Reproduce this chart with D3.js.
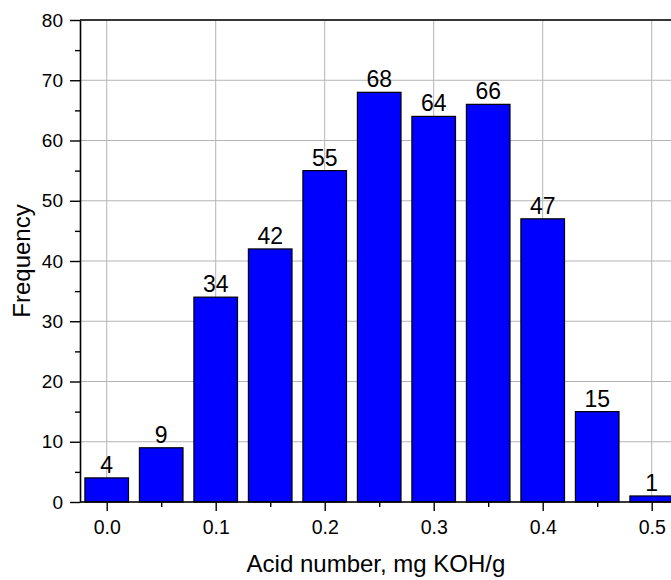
<!DOCTYPE html>
<html>
<head>
<meta charset="utf-8">
<script src="https://cdnjs.cloudflare.com/ajax/libs/d3/7.9.0/d3.min.js"></script>
<style>
  html, body { margin: 0; padding: 0; background: #fff; overflow: hidden; }
  svg { display: block; font-family: "Liberation Sans", Arial, sans-serif; }
</style>
</head>
<body>
<div id="grafico"></div>
<script>
// centros das classes (mg KOH/g) e frequências
const classes = [0.0, 0.05, 0.1, 0.15, 0.2, 0.25, 0.3, 0.35, 0.4, 0.45, 0.5];
const frequencias = [4, 9, 34, 42, 55, 68, 64, 66, 47, 15, 1];
const ticksX = [0.0, 0.1, 0.2, 0.3, 0.4, 0.5];
const ticksY = [0, 10, 20, 30, 40, 50, 60, 70, 80];

const W = 671, H = 580;
const esq = 80, topo = 20, base = 502;
const larguraClasse = 0.05;
const FONTE = "Liberation Sans, Arial, sans-serif";

const svg = d3.select("#grafico").append("svg")
  .attr("width", W).attr("height", H);

// escala x vai além da janela (eixo direito fica cortado)
const x = d3.scaleLinear().domain([-0.0245, 0.5]).range([esq, 651.7]);
const y = d3.scaleLinear().domain([0, 80]).range([base, topo]);

// grade
const grade = svg.append("g").attr("stroke", "#b4b4b4").attr("stroke-width", 1);
ticksX.forEach(t => {
  grade.append("line").attr("x1", x(t)).attr("x2", x(t)).attr("y1", topo).attr("y2", base);
});
ticksY.forEach(t => {
  grade.append("line").attr("x1", esq).attr("x2", W + 20).attr("y1", y(t)).attr("y2", y(t));
});

const dados = classes.map((c, i) => ({ c, f: frequencias[i] }));

// barras
const bw = (x(larguraClasse) - x(0)) * 0.8;
svg.append("g").selectAll("rect")
  .data(dados)
  .join("rect")
  .attr("x", d => x(d.c) - bw / 2)
  .attr("y", d => y(d.f))
  .attr("width", bw)
  .attr("height", d => y(0) - y(d.f))
  .attr("fill", "#0000ff")
  .attr("stroke", "#000")
  .attr("stroke-width", 1.2);

// rótulos
svg.append("g").selectAll("text")
  .data(dados)
  .join("text")
  .attr("x", d => x(d.c))
  .attr("y", d => y(d.f) - 5)
  .attr("text-anchor", "middle")
  .attr("font-size", 23)
  .attr("fill", "#000")
  .text(d => d.f);

// eixos
const eixoX = d3.axisBottom(x)
  .tickValues(d3.range(0, 0.51, 0.05).map(v => +v.toFixed(2)))
  .tickFormat(d => ticksX.some(t => Math.abs(t - d) < 1e-9) ? d3.format(".1f")(d) : "")
  .tickSizeOuter(0);
const gx = svg.append("g").attr("transform", `translate(0,${base})`).call(eixoX);
gx.select(".domain").attr("d", `M${esq},0H${W + 20}`).attr("stroke-width", 1.6);
gx.selectAll(".tick line").attr("y2", (d, i) => i % 2 === 0 ? 9 : 5).attr("stroke-width", 1.4);
gx.selectAll(".tick text").attr("font-size", 19.5).attr("y", 18).attr("fill", "#000").attr("font-family", FONTE);

const eixoY = d3.axisLeft(y)
  .tickValues(d3.range(0, 81, 5))
  .tickFormat(d => d % 10 === 0 ? d : "")
  .tickSizeOuter(0);
const gy = svg.append("g").attr("transform", `translate(${esq},0)`).call(eixoY);
gy.select(".domain").attr("stroke-width", 1.6);
gy.selectAll(".tick line").attr("x2", d => d % 10 === 0 ? -10 : -5).attr("stroke-width", 1.4);
gy.selectAll(".tick text").attr("font-size", 19).attr("x", -17).attr("fill", "#000").attr("font-family", FONTE);

// borda superior
svg.append("line").attr("x1", esq).attr("x2", W + 20).attr("y1", topo).attr("y2", topo)
  .attr("stroke", "#000").attr("stroke-width", 1.6);

// títulos
svg.append("text").attr("x", 376).attr("y", 572).attr("text-anchor", "middle")
  .attr("font-size", 24).text("Acid number, mg KOH/g");
svg.append("text").attr("transform", `translate(30,${(topo + base) / 2}) rotate(-90)`)
  .attr("text-anchor", "middle").attr("font-size", 24).text("Frequency");
</script>
</body>
</html>
